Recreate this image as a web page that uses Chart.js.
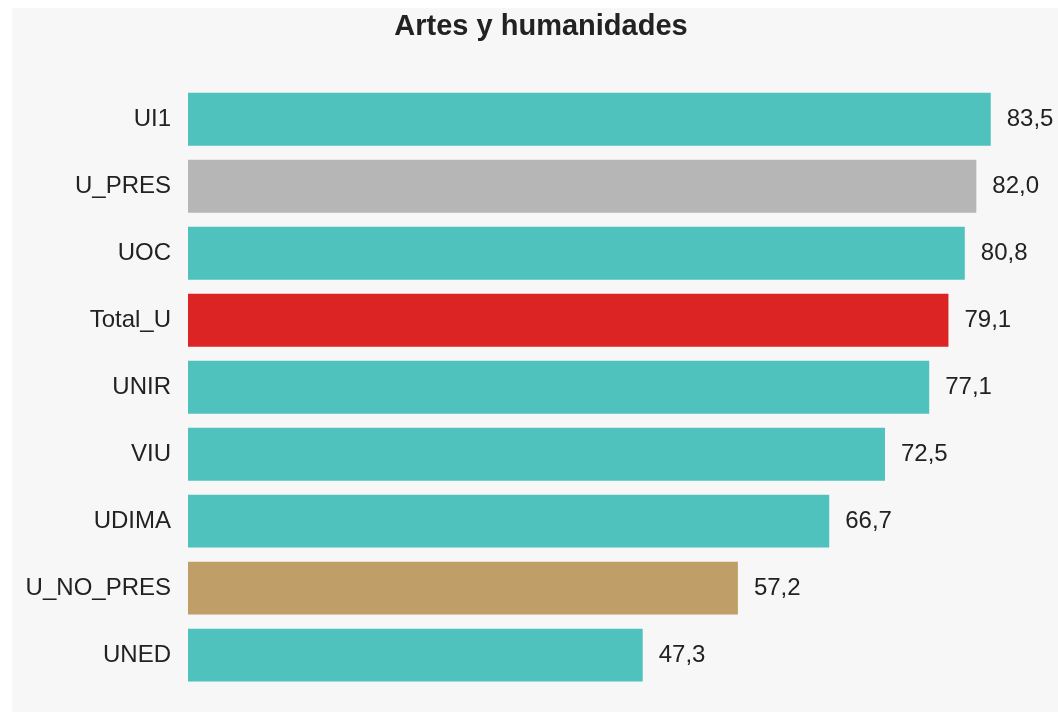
<!DOCTYPE html>
<html>
<head>
<meta charset="utf-8">
<script src="https://cdn.jsdelivr.net/npm/chart.js@4"></script>
<style>
  html, body { margin: 0; padding: 0; background: #ffffff; }
  #wrap { width: 1058px; height: 712px; position: relative; }
</style>
</head>
<body>
<div id="wrap"><canvas id="myChart"></canvas></div>
<script>
var categories = ['UI1', 'U_PRES', 'UOC', 'Total_U', 'UNIR', 'VIU', 'UDIMA', 'U_NO_PRES', 'UNED'];
var values = [83.5, 82.0, 80.8, 79.1, 77.1, 72.5, 66.7, 57.2, 47.3];
var barColors = ['#4fc2be', '#b6b6b6', '#4fc2be', '#dc2424', '#4fc2be', '#4fc2be', '#4fc2be', '#bf9f67', '#4fc2be'];
var chartTitle = 'Artes y humanidades';

var fontFamily = '"Liberation Sans", Arial, sans-serif';

// grey panel behind the chart
var panelBg = {
    id: 'panelBg',
    beforeDraw: function (chart) {
        var c = chart.ctx;
        c.save();
        c.fillStyle = '#f7f7f7';
        c.fillRect(12, 8, chart.width - 12, chart.height - 8);
        c.restore();
    }
};

// let the long category labels run into the left padding without being clipped
var labelRoom = {
    id: 'labelRoom',
    afterLayout: function (chart) {
        chart.scales.y.left = 12;
    }
};

// value labels at the end of each bar
var valueLabels = {
    id: 'valueLabels',
    afterDatasetsDraw: function (chart) {
        var c = chart.ctx;
        var meta = chart.getDatasetMeta(0);
        c.save();
        c.font = '24px ' + fontFamily;
        c.fillStyle = '#222222';
        c.textAlign = 'left';
        c.textBaseline = 'middle';
        meta.data.forEach(function (bar, i) {
            var txt = values[i].toFixed(1).replace('.', ',');
            c.fillText(txt, bar.x + 16, bar.y);
        });
        c.restore();
    }
};

document.addEventListener('DOMContentLoaded', function () {
    var ctx = document.getElementById('myChart').getContext('2d');
    var myChart = new Chart(ctx, {
        type: 'bar',
        data: {
            labels: categories,
            datasets: [{
                data: values,
                backgroundColor: barColors,
                borderWidth: 0,
                barPercentage: 0.79,
                categoryPercentage: 1.0
            }]
        },
        options: {
            indexAxis: 'y',
            responsive: true,
            maintainAspectRatio: false,
            animation: false,
            layout: {
                // wide left padding so the title sits right of centre, as in the original
                padding: { top: 0, right: 24, bottom: 14, left: 48 }
            },
            plugins: {
                legend: { display: false },
                tooltip: { enabled: false },
                title: {
                    display: true,
                    text: chartTitle,
                    color: '#222222',
                    font: { family: fontFamily, size: 29, weight: 'bold', lineHeight: 1.2 },
                    padding: { top: 10, bottom: 41 }
                }
            },
            scales: {
                x: {
                    min: 0,
                    max: 88,
                    display: false,
                    grid: { display: false }
                },
                y: {
                    grid: { display: false },
                    border: { display: false },
                    afterFit: function (scale) {
                        scale.width = 140;
                    },
                    ticks: {
                        color: '#222222',
                        padding: 9,
                        font: { family: fontFamily, size: 24 }
                    }
                }
            }
        },
        plugins: [panelBg, labelRoom, valueLabels]
    });
});
</script>
</body>
</html>
